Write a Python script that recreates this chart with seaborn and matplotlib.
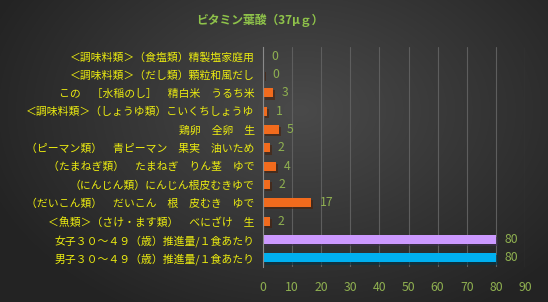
import numpy as np
import matplotlib
matplotlib.use("Agg")
import matplotlib.pyplot as plt
import matplotlib.patheffects as pe
import seaborn as sns

# data (top row first)
foods = [
    "＜調味料類＞（食塩類）精製塩家庭用",
    "＜調味料類＞（だし類）顆粒和風だし",
    "この　［水稲のし］　精白米　うるち米",
    "＜調味料類＞（しょうゆ類）こいくちしょうゆ",
    "鶏卵　全卵　生",
    "（ピーマン類）　青ピーマン　果実　油いため",
    "（たまねぎ類）　たまねぎ　りん茎　ゆで",
    "（にんじん類）にんじん根皮むきゆで",
    "（だいこん類）　だいこん　根　皮むき　ゆで",
    "＜魚類＞（さけ・ます類）　べにざけ　生",
    "女子３０～４９（歳）推進量/１食あたり",
    "男子３０～４９（歳）推進量/１食あたり",
]
folate = [0.0, 0.4, 3.4, 1.4, 5.4, 2.3, 4.4, 2.4, 16.6, 2.3, 80.0, 80.0]
bar_colors = ["#f26b1d"] * 10 + ["#cc99ff", "#00b0f0"]

sns.set_theme(style="dark")
plt.rcParams["font.family"] = ["Noto Sans CJK JP", "DejaVu Sans"]

fig = plt.figure(figsize=(5.48, 3.02), dpi=100)

# dark radial gradient background
bg = fig.add_axes([0, 0, 1, 1], zorder=-1)
yy, xx = np.mgrid[0:302, 0:548]
r = np.sqrt(((xx - 300) / 330.0) ** 2 + ((yy - 110) / 230.0) ** 2)
shade = np.clip(0.29 - 0.15 * r, 0.14, 0.29)
bg.imshow(np.dstack([shade, shade, shade]), aspect="auto", extent=[0, 1, 0, 1])
bg.axis("off")

ax = fig.add_axes([263 / 548, 1 - 267 / 302, (525 - 263) / 548, (267 - 47) / 302])
ax.set_facecolor("none")

sns.barplot(x=folate, y=foods, hue=foods, palette=bar_colors, legend=False,
            orient="h", width=0.5, saturation=1, linewidth=0, ax=ax)

for bar in ax.patches:
    bar.set_path_effects([pe.SimplePatchShadow(offset=(1.5, -1.5), alpha=0.6), pe.Normal()])

for c in ax.containers:
    ax.bar_label(c, fmt="%.0f", padding=6, color="#8fb050", fontsize=8.8)

ax.set_xlim(0, 90)
ax.set_xticks(range(0, 91, 10))
ax.grid(axis="x", color="#5e5e5e", linewidth=0.8)
ax.grid(axis="y", visible=False)
ax.set_axisbelow(True)
for s in ["top", "right", "bottom"]:
    ax.spines[s].set_visible(False)
ax.spines["left"].set_color("#8a8a8a")
ax.spines["left"].set_linewidth(0.8)

ax.tick_params(axis="y", colors="#ecec10", labelsize=7.8, length=0, pad=6)
ax.tick_params(axis="x", colors="#8fb050", labelsize=8.8, length=0, pad=10)
ax.set_xlabel("")
ax.set_ylabel("")

fig.text(260 / 548, 1 - 20 / 302, "ビタミン葉酸（37μｇ）", ha="center", va="center",
         color="#8fc34a", fontsize=8.5, fontweight="bold")

fig.savefig("out.png", dpi=100)
